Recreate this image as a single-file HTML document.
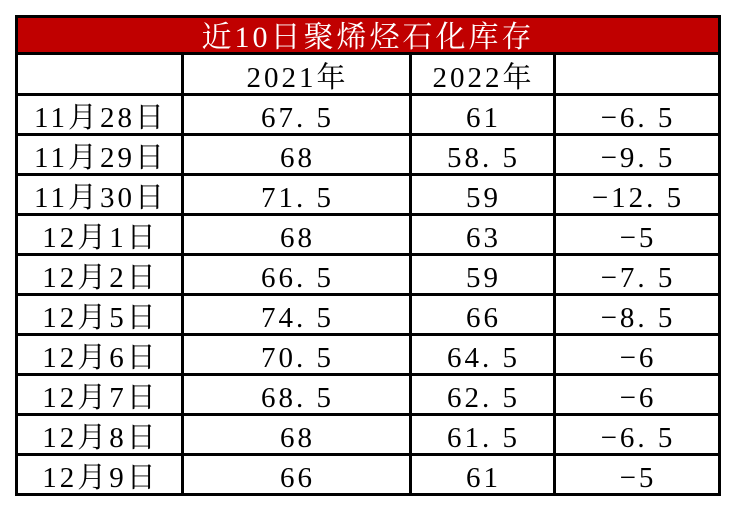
<!DOCTYPE html><html><head><meta charset="utf-8"><style>
body{margin:0;width:736px;height:512px;background:#fff;position:relative;overflow:hidden;font-family:"Liberation Serif","Noto Serif CJK SC",serif}
.h{position:absolute;background:#000;height:3px}
.v{position:absolute;background:#000;width:3px}
.c{position:absolute;text-align:center;font-size:29px;line-height:37px;color:#000;letter-spacing:3px;white-space:nowrap}
</style></head><body>
<div style="position:absolute;left:15px;top:15px;width:706px;height:40px;background:#c00000"></div>
<div class="c" style="left:18px;top:19px;width:700px;color:#fff;font-size:30px;letter-spacing:3px">近10日聚烯烃石化库存</div>
<div class="h" style="left:15px;top:15px;width:706px"></div>
<div class="h" style="left:15px;top:52px;width:706px"></div>
<div class="h" style="left:15px;top:93px;width:706px"></div>
<div class="h" style="left:15px;top:133px;width:706px"></div>
<div class="h" style="left:15px;top:173px;width:706px"></div>
<div class="h" style="left:15px;top:213px;width:706px"></div>
<div class="h" style="left:15px;top:253px;width:706px"></div>
<div class="h" style="left:15px;top:293px;width:706px"></div>
<div class="h" style="left:15px;top:333px;width:706px"></div>
<div class="h" style="left:15px;top:373px;width:706px"></div>
<div class="h" style="left:15px;top:413px;width:706px"></div>
<div class="h" style="left:15px;top:453px;width:706px"></div>
<div class="h" style="left:15px;top:493px;width:706px"></div>
<div class="v" style="left:15px;top:15px;height:481px"></div>
<div class="v" style="left:718px;top:15px;height:481px"></div>
<div class="v" style="left:181px;top:52px;height:444px"></div>
<div class="v" style="left:409px;top:52px;height:444px"></div>
<div class="v" style="left:553px;top:52px;height:444px"></div>
<div id="t"></div>
<script>
var r=[["","2021年","2022年",""],["11月28日","67. 5","61","−6. 5"],["11月29日","68","58. 5","−9. 5"],["11月30日","71. 5","59","−12. 5"],["12月1日","68","63","−5"],["12月2日","66. 5","59","−7. 5"],["12月5日","74. 5","66","−8. 5"],["12月6日","70. 5","64. 5","−6"],["12月7日","68. 5","62. 5","−6"],["12月8日","68","61. 5","−6. 5"],["12月9日","66","61","−5"]];
var xs=[[18,163],[184,225],[412,141],[556,162]],h="";
r.forEach(function(row,i){row.forEach(function(t,j){h+='<div class="c" style="left:'+(xs[j][0]+1)+'px;width:'+xs[j][1]+'px;top:'+(60+40*i)+'px">'+t+'</div>';});});
document.getElementById('t').outerHTML=h;
</script>
</body></html>
